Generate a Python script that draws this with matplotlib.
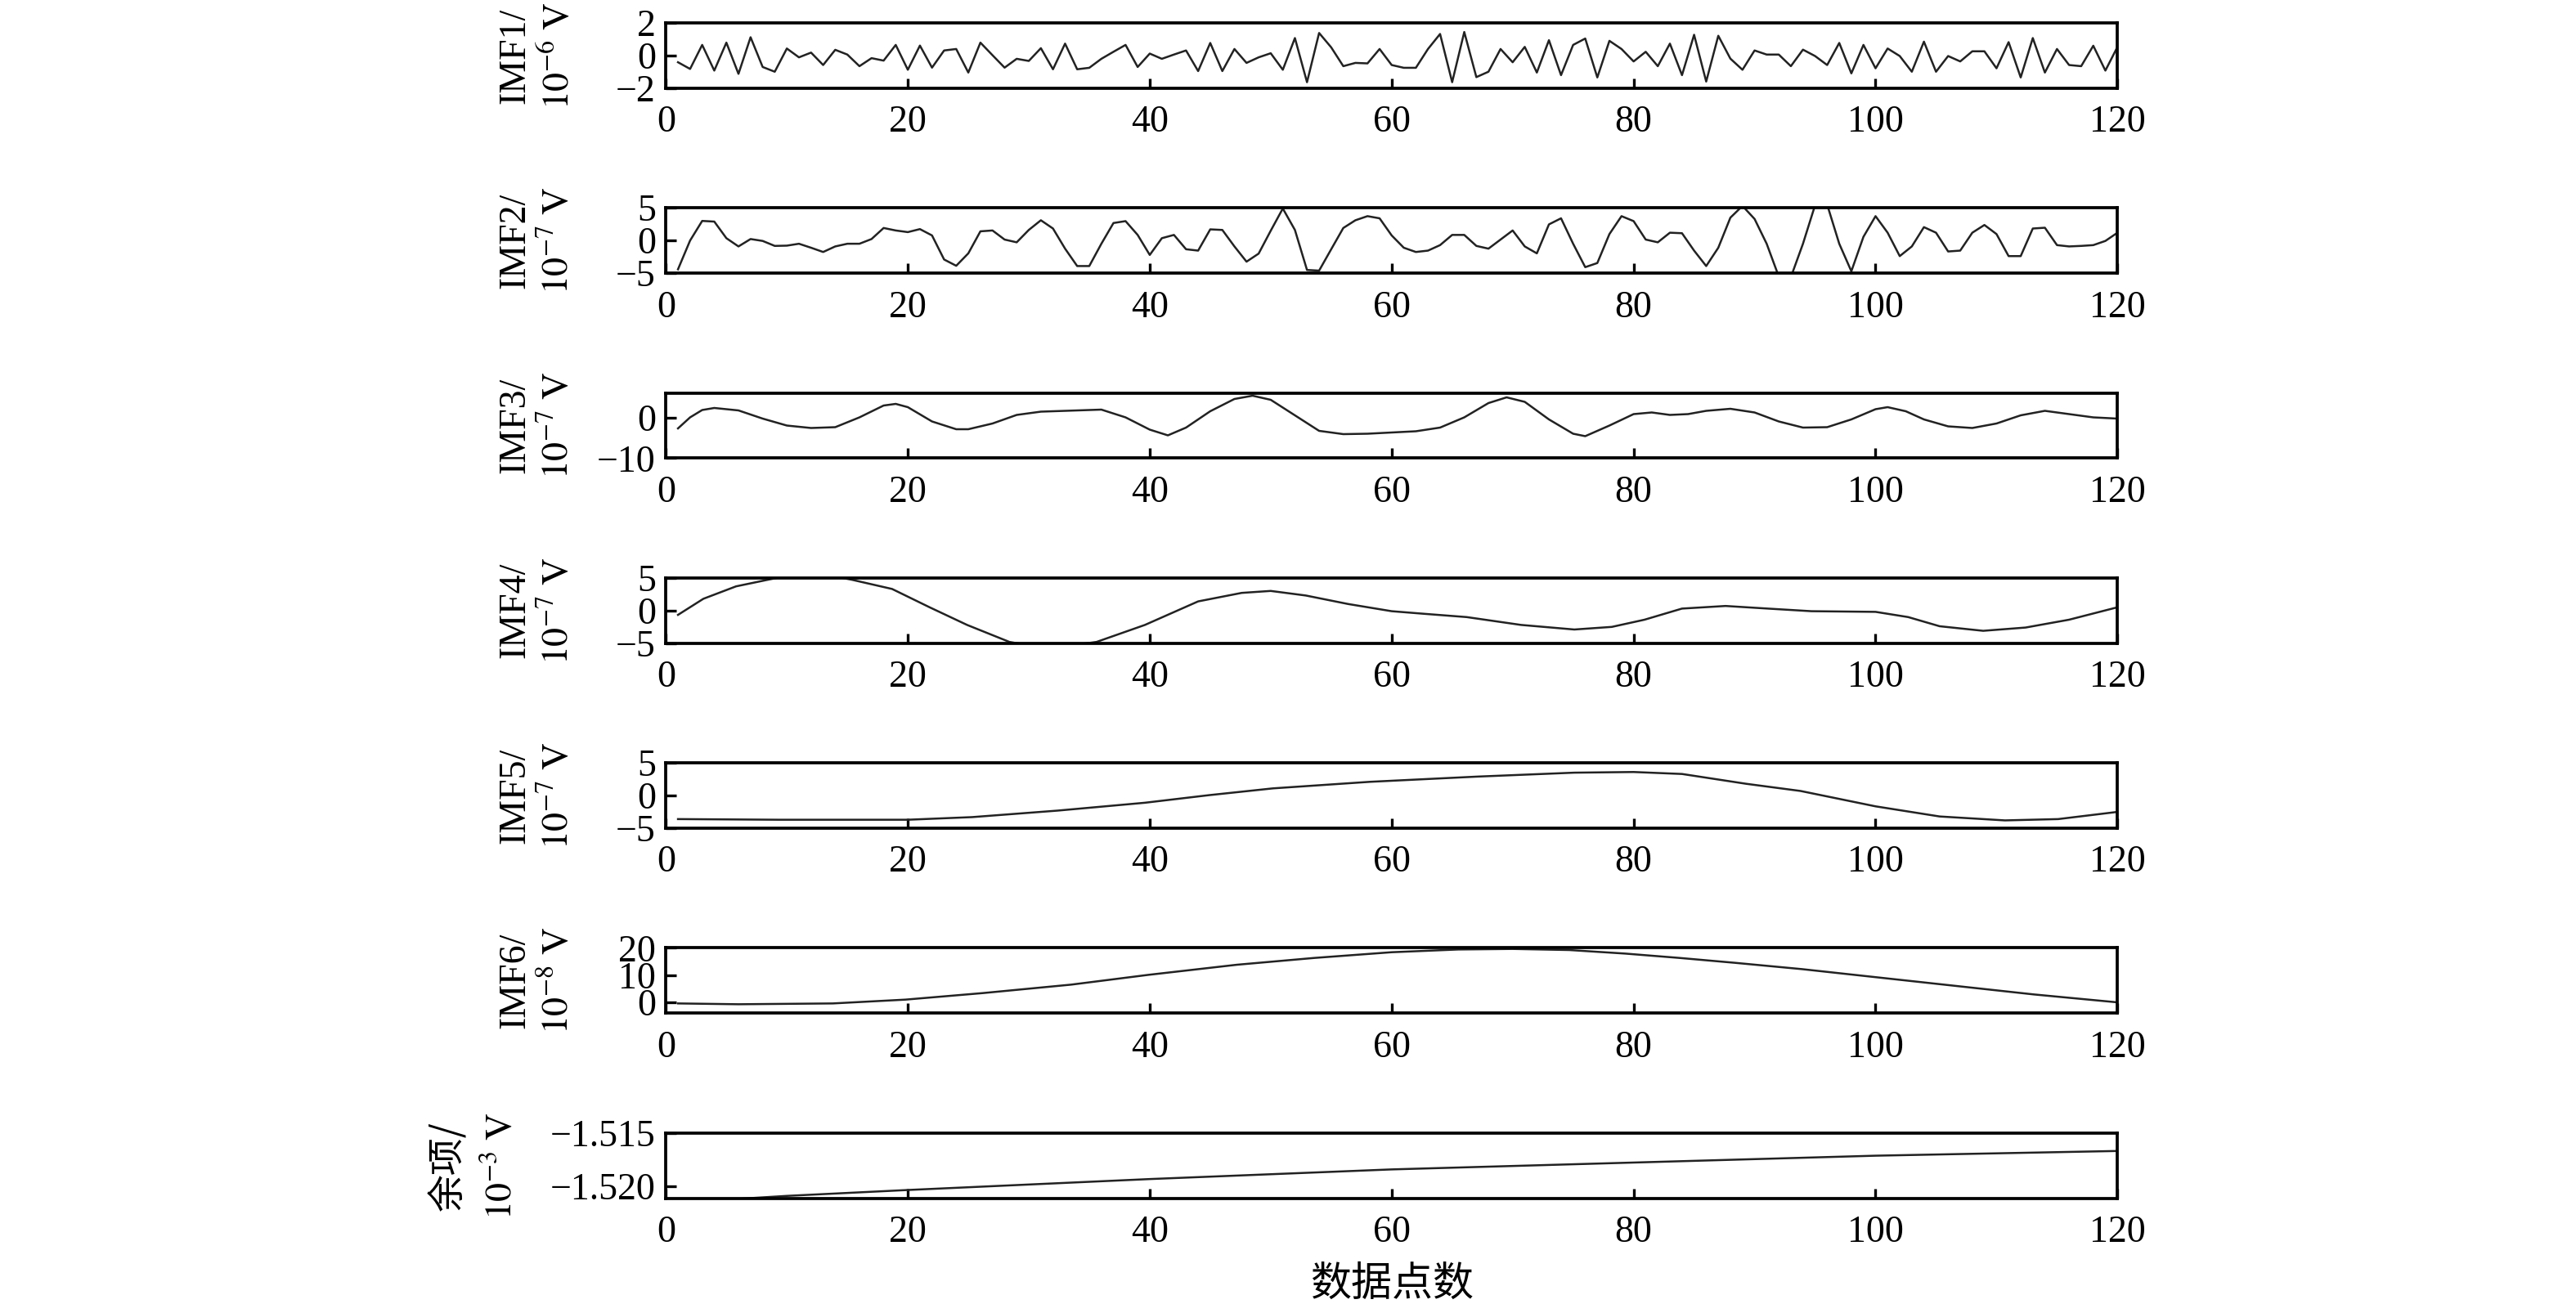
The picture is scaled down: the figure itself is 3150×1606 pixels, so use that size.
import matplotlib
matplotlib.use('Agg')
import matplotlib.pyplot as plt
from matplotlib.ticker import FuncFormatter

plt.rcParams['font.family'] = ['Liberation Serif', 'Noto Sans CJK SC']
plt.rcParams['mathtext.fontset'] = 'stix'
plt.rcParams['font.size'] = 11

# sample index 1..120
n = list(range(1, 121))

imf1 = [-0.41, -0.82, 0.65, -0.92, 0.79, -1.12, 1.12, -0.70, -0.99, 0.43,
        -0.11, 0.18, -0.58, 0.35, 0.06, -0.65, -0.16, -0.31, 0.65, -0.87,
        0.61, -0.74, 0.31, 0.40, -1.04, 0.79, 0.02, -0.74, -0.20, -0.33,
        0.45, -0.84, 0.73, -0.84, -0.75, -0.20, 0.23, 0.65, -0.70, 0.12,
        -0.20, 0.06, 0.31, -0.95, 0.77, -0.95, 0.40, -0.45, -0.11, 0.14,
        -0.87, 1.07, -1.63, 1.38, 0.50, -0.65, -0.45, -0.48, 0.40, -0.58,
        -0.75, -0.75, 0.40, 1.32, -1.63, 1.44, -1.32, -0.99, 0.40, -0.41,
        0.53, -1.04, 0.94, -1.20, 0.65, 1.04, -1.34, 0.90, 0.40, -0.36,
        0.23, -0.65, 0.73, -1.20, 1.27, -1.59, 1.21, -0.19, -0.87, 0.31,
        0.06, 0.06, -0.65, 0.36, -0.03, -0.58, 0.77, -1.09, 0.65, -0.78,
        0.43, -0.03, -0.99, 0.85, -0.99, -0.03, -0.36, 0.26, 0.26, -0.78,
        0.82, -1.34, 1.07, -1.04, 0.40, -0.58, -0.65, 0.60, -0.92, 0.53]

imf2 = [-4.4, 0.0, 3.0, 2.9, 0.36, -0.9, 0.23, -0.06, -0.82, -0.78,
        -0.49, -1.1, -1.75, -0.9, -0.49, -0.49, 0.23, 1.92, 1.54, 1.29,
        1.75, 0.78, -2.9, -3.86, -1.96, 1.41, 1.54, 0.15, -0.27, 1.62,
        3.1, 1.84, -1.24, -3.9, -3.9, -0.49, 2.68, 2.97, 0.86, -2.2,
        0.36, 0.86, -1.33, -1.54, 1.71, 1.62, -0.9, -3.23, -2.0, 1.5,
        4.9, 1.62, -4.5, -4.6, -1.33, 1.92, 3.1, 3.73, 3.4, 0.78,
        -1.1, -1.75, -1.54, -0.7, 0.86, 0.86, -0.82, -1.24, 0.15, 1.54,
        -0.9, -1.96, 2.47, 3.4, -0.49, -4.07, -3.44, 0.99, 3.73, 2.97,
        0.15, -0.27, 1.2, 1.12, -1.54, -3.9, -1.1, 3.5, 5.3, 3.3,
        -0.49, -5.5, -5.6, -0.49, 5.4, 5.5, -0.49, -4.7, 0.57, 3.73,
        1.2, -2.38, -0.9, 2.05, 1.2, -1.67, -1.54, 1.2, 2.38, 0.99,
        -2.38, -2.38, 1.84, 1.96, -0.7, -0.9, -0.82, -0.7, -0.06, 1.2]

imf3_x = [1, 2, 3, 4, 6, 8, 10, 12, 14, 16, 18, 19, 20, 22, 24, 25, 27, 29,
          31, 33, 35, 36, 38, 40, 41.5, 43, 45, 47, 48.5, 50, 52, 54, 56, 58,
          60, 62, 64, 66, 68, 69.5, 71, 73, 75, 76, 78, 80, 81.5, 83, 84.5,
          86, 88, 90, 92, 94, 96, 98, 100, 101, 102.5, 104, 106, 108, 110,
          112, 114, 116, 118, 120]
imf3_y = [-2.7, 0.0, 1.8, 2.3, 1.7, -0.3, -2.0, -2.6, -2.4, 0.0, 2.9, 3.3,
          2.5, -1.0, -2.9, -2.9, -1.5, 0.6, 1.4, 1.6, 1.8, 1.9, 0.0, -3.0,
          -4.4, -2.5, 1.5, 4.5, 5.3, 4.3, 0.5, -3.3, -4.1, -4.0, -3.7, -3.4,
          -2.5, 0.0, 3.5, 4.9, 3.8, -0.5, -4.0, -4.6, -2.0, 0.8, 1.2, 0.6,
          0.8, 1.6, 2.1, 1.2, -1.0, -2.5, -2.4, -0.5, 2.0, 2.5, 1.5, -0.5,
          -2.2, -2.6, -1.5, 0.5, 1.6, 0.8, 0.0, -0.3]

imf4_x = [1, 3.1, 5.8, 8.4, 10, 12, 14, 15.4, 18.7, 21.8, 24.9, 28.4, 30,
          32, 34, 35.6, 39.6, 44, 47.6, 50, 52.9, 56.4, 60, 62.7, 66.2, 70.7,
          75.1, 78.2, 80.9, 84, 87.6, 91.1, 94.7, 100, 102.7, 105.3, 108.9,
          112.4, 116, 120]
imf4_y = [-0.66, 1.8, 3.7, 4.7, 5.3, 5.4, 5.2, 4.7, 3.3, 0.5, -2.2, -4.8,
          -5.3, -5.4, -5.2, -4.8, -2.2, 1.4, 2.7, 3.0, 2.3, 1.0, -0.1, -0.5,
          -1.0, -2.2, -2.9, -2.5, -1.4, 0.3, 0.7, 0.3, -0.1, -0.2, -1.0,
          -2.4, -3.1, -2.6, -1.4, 0.5]

imf5_x = [1, 9.3, 20, 25.3, 32.4, 39.6, 44.9, 50.2, 58.2, 67.1, 75.1, 80,
          84, 89.3, 93.8, 100, 105.3, 110.7, 115.1, 120]
imf5_y = [-3.6, -3.7, -3.7, -3.3, -2.3, -1.1, 0.06, 1.1, 2.1, 2.9, 3.5, 3.6,
          3.3, 1.8, 0.7, -1.65, -3.2, -3.8, -3.6, -2.5]

imf6_x = [1, 6, 13.8, 19.8, 26.2, 33.5, 39.9, 47.2, 53.6, 60, 65.5, 70,
          74.7, 79.3, 83.8, 88.4, 93.9, 100.3, 106.7, 113.1, 120]
imf6_y = [-0.4, -0.7, -0.4, 1.0, 3.4, 6.5, 10.1, 13.8, 16.3, 18.4, 19.4,
          19.6, 19.2, 17.9, 16.3, 14.5, 12.2, 9.1, 6.0, 2.9, 0.0]

res_x = [1, 10, 20, 40, 60, 80, 100, 120]
res_y = [-1.5215, -1.52088, -1.52033, -1.51931, -1.51841, -1.51777,
         -1.51713, -1.51669]

xs = [n, n, imf3_x, imf4_x, imf5_x, imf6_x, res_x]
ys = [imf1, imf2, imf3_y, imf4_y, imf5_y, imf6_y, res_y]
names = ['IMF1/', 'IMF2/', 'IMF3/', 'IMF4/', 'IMF5/', 'IMF6/', '余项/']
units = [r'$\mathrm{10^{-6}\ V}$', r'$\mathrm{10^{-7}\ V}$', r'$\mathrm{10^{-7}\ V}$',
         r'$\mathrm{10^{-7}\ V}$', r'$\mathrm{10^{-7}\ V}$', r'$\mathrm{10^{-8}\ V}$',
         r'$\mathrm{10^{-3}\ V}$']
ylims = [(-2, 2), (-5, 5), (-10, 6), (-5, 5), (-5, 5), (-4, 20), (-1.5211, -1.515)]
yticks = [[-2, 0, 2], [-5, 0, 5], [-10, 0], [-5, 0, 5], [-5, 0, 5], [0, 10, 20],
          [-1.520, -1.515]]
xticks = [0, 20, 40, 60, 80, 100, 120]

fig = plt.figure(figsize=(10.5, 1606 / 300))

left, width, height = 0.2585, 0.5635, 0.0498
bottom0, step = 0.9328, 0.1409

for i in range(7):
    ax = fig.add_axes([left, bottom0 - i * step, width, height])
    ax.plot(xs[i], ys[i], color='#222222', lw=0.6)
    ax.set_xlim(0, 120)
    ax.set_ylim(*ylims[i])
    ax.set_xticks(xticks)
    ax.set_yticks(yticks[i])
    ax.tick_params(direction='in', length=3, width=0.8, top=False, right=False)
    ax.tick_params(axis='x', pad=5)
    ax.tick_params(axis='y', pad=3)
    for s in ax.spines.values():
        s.set_linewidth(0.9)
    if i == 6:
        ax.yaxis.set_major_formatter(
            FuncFormatter(lambda v, p: ('%.3f' % v).replace('-', '\u2212')))
        x1, x2 = -0.150, -0.113
        ax.text(x1, 0.5, names[i], rotation=90, ha='center', va='center',
                transform=ax.transAxes, family='Noto Sans CJK SC', fontsize=11)
        ax.text(0.5, -1.31, '数据点数', ha='center', va='center',
                transform=ax.transAxes, family='Noto Sans CJK SC', fontsize=12)
    else:
        x1, x2 = -0.104, -0.074
        ax.text(x1, 0.5, names[i], rotation=90, ha='center', va='center',
                transform=ax.transAxes)
    ax.text(x2, 0.5, units[i], rotation=90, ha='center', va='center',
            transform=ax.transAxes)

fig.savefig('out.png', dpi=300)
